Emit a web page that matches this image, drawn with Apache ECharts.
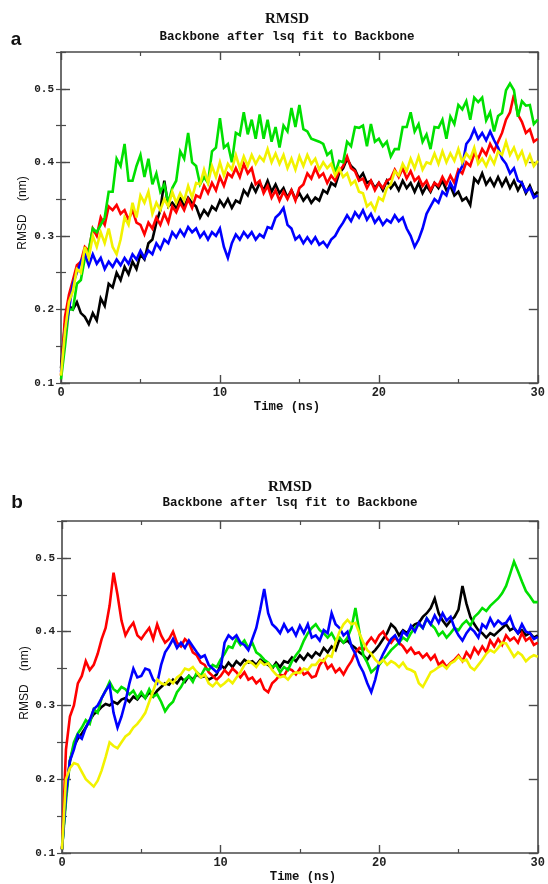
<!DOCTYPE html>
<html>
<head>
<meta charset="utf-8">
<script src="https://cdn.jsdelivr.net/npm/echarts@6/dist/echarts.min.js"></script>
<style>html,body{margin:0;padding:0;background:#fff}#c{width:548px;height:884px}</style>
</head>
<body>
<div id="c"></div>
<script>
// sample step in ns (one value every 0.25 ns, 0..30 ns)
const STEP = 0.25;
const xTicks = [0, 10, 20, 30];
const yTicks = [0.1, 0.2, 0.3, 0.4, 0.5];
const seriesColors = ['#000000', '#ff0000', '#00e000', '#0000ff', '#f2f200'];

// ---- panel a ----
const a_black = [0.12,0.18,0.205,0.2,0.21,0.195,0.19,0.18,0.195,0.185,
0.215,0.205,0.235,0.23,0.25,0.24,0.258,0.248,0.265,0.255,
0.275,0.268,0.29,0.295,0.318,0.335,0.375,0.34,0.345,0.338,
0.352,0.34,0.352,0.345,0.34,0.325,0.335,0.328,0.34,0.335,
0.348,0.34,0.35,0.338,0.348,0.345,0.362,0.355,0.37,0.36,
0.372,0.362,0.375,0.36,0.37,0.358,0.365,0.352,0.362,0.35,
0.358,0.348,0.355,0.345,0.352,0.348,0.362,0.358,0.372,0.368,
0.385,0.392,0.405,0.395,0.39,0.378,0.385,0.372,0.375,0.365,
0.372,0.362,0.375,0.365,0.372,0.362,0.375,0.365,0.372,0.36,
0.372,0.358,0.368,0.36,0.372,0.365,0.375,0.362,0.368,0.355,
0.36,0.348,0.352,0.342,0.378,0.372,0.385,0.37,0.378,0.368,
0.38,0.368,0.378,0.365,0.375,0.362,0.372,0.358,0.368,0.355,
0.36];
const a_red = [0.11,0.19,0.22,0.24,0.26,0.265,0.285,0.28,0.31,0.3,
0.325,0.315,0.34,0.335,0.342,0.33,0.335,0.322,0.335,0.318,
0.315,0.302,0.318,0.31,0.325,0.315,0.33,0.318,0.34,0.332,
0.345,0.335,0.35,0.338,0.355,0.352,0.368,0.358,0.372,0.362,
0.38,0.368,0.385,0.38,0.392,0.38,0.398,0.385,0.392,0.37,
0.375,0.358,0.368,0.352,0.362,0.348,0.36,0.35,0.362,0.348,
0.365,0.37,0.385,0.378,0.392,0.38,0.385,0.372,0.382,0.375,
0.388,0.395,0.408,0.392,0.388,0.375,0.378,0.365,0.375,0.362,
0.372,0.365,0.375,0.378,0.39,0.38,0.392,0.378,0.388,0.375,
0.38,0.368,0.375,0.362,0.372,0.368,0.38,0.37,0.382,0.372,
0.39,0.385,0.4,0.395,0.412,0.405,0.418,0.41,0.425,0.415,
0.428,0.44,0.458,0.468,0.492,0.465,0.455,0.44,0.445,0.428,
0.432];
const a_green = [0.105,0.15,0.2,0.2,0.235,0.24,0.27,0.28,0.31,0.305,
0.315,0.325,0.36,0.36,0.405,0.395,0.425,0.375,0.375,0.395,
0.41,0.38,0.405,0.37,0.385,0.36,0.37,0.345,0.365,0.375,
0.415,0.405,0.44,0.4,0.395,0.37,0.38,0.372,0.415,0.42,
0.46,0.42,0.425,0.4,0.44,0.437,0.468,0.438,0.458,0.432,
0.465,0.432,0.458,0.428,0.448,0.42,0.45,0.442,0.474,0.448,
0.478,0.445,0.442,0.432,0.43,0.428,0.425,0.41,0.415,0.385,
0.402,0.4,0.428,0.422,0.448,0.447,0.45,0.422,0.452,0.428,
0.432,0.422,0.428,0.408,0.418,0.418,0.448,0.448,0.468,0.442,
0.452,0.428,0.438,0.418,0.448,0.447,0.458,0.432,0.462,0.452,
0.478,0.472,0.483,0.458,0.488,0.482,0.488,0.457,0.468,0.442,
0.463,0.467,0.498,0.507,0.498,0.462,0.483,0.477,0.478,0.452,
0.458];
const a_blue = [0.115,0.17,0.2,0.235,0.25,0.265,0.275,0.26,0.275,0.262,
0.27,0.255,0.265,0.258,0.268,0.26,0.27,0.262,0.275,0.268,
0.28,0.27,0.28,0.275,0.29,0.282,0.295,0.29,0.305,0.298,
0.308,0.3,0.312,0.305,0.31,0.298,0.305,0.295,0.305,0.3,
0.31,0.285,0.27,0.29,0.302,0.295,0.305,0.298,0.305,0.295,
0.302,0.298,0.312,0.31,0.325,0.33,0.338,0.315,0.31,0.295,
0.3,0.29,0.298,0.29,0.298,0.288,0.292,0.285,0.295,0.3,
0.31,0.318,0.328,0.32,0.332,0.325,0.335,0.322,0.33,0.318,
0.325,0.315,0.322,0.318,0.328,0.32,0.325,0.31,0.3,0.285,
0.295,0.31,0.33,0.34,0.35,0.345,0.36,0.355,0.372,0.362,
0.385,0.395,0.425,0.432,0.445,0.432,0.44,0.43,0.442,0.43,
0.42,0.405,0.398,0.385,0.392,0.375,0.372,0.36,0.365,0.352,
0.355];
const a_yellow = [0.11,0.17,0.21,0.225,0.255,0.25,0.285,0.27,0.3,0.285,
0.305,0.29,0.31,0.285,0.275,0.295,0.325,0.315,0.345,0.325,
0.355,0.345,0.36,0.33,0.345,0.335,0.35,0.34,0.36,0.345,
0.358,0.348,0.368,0.352,0.372,0.37,0.39,0.372,0.395,0.38,
0.4,0.382,0.398,0.39,0.41,0.392,0.408,0.395,0.41,0.398,
0.408,0.402,0.418,0.4,0.412,0.398,0.41,0.392,0.405,0.39,
0.408,0.395,0.41,0.398,0.405,0.39,0.4,0.392,0.398,0.382,
0.392,0.38,0.385,0.37,0.375,0.36,0.358,0.34,0.345,0.335,
0.352,0.348,0.365,0.37,0.388,0.382,0.398,0.388,0.405,0.392,
0.408,0.39,0.4,0.398,0.412,0.398,0.415,0.4,0.412,0.402,
0.418,0.4,0.412,0.405,0.42,0.398,0.405,0.395,0.408,0.398,
0.415,0.41,0.428,0.41,0.42,0.405,0.415,0.398,0.41,0.395,
0.402];

// ---- panel b ----
const b_black = [0.105,0.18,0.225,0.245,0.255,0.262,0.27,0.28,0.288,0.292,
0.298,0.302,0.3,0.305,0.302,0.308,0.31,0.305,0.312,0.308,
0.315,0.31,0.318,0.312,0.32,0.325,0.33,0.328,0.335,0.33,
0.338,0.332,0.34,0.335,0.342,0.338,0.34,0.335,0.338,0.342,
0.355,0.35,0.358,0.352,0.36,0.355,0.362,0.358,0.36,0.355,
0.362,0.358,0.355,0.35,0.358,0.352,0.36,0.358,0.365,0.36,
0.368,0.362,0.37,0.365,0.372,0.368,0.378,0.372,0.38,0.375,
0.39,0.385,0.388,0.382,0.378,0.372,0.368,0.362,0.37,0.375,
0.382,0.39,0.398,0.41,0.405,0.395,0.402,0.398,0.405,0.41,
0.412,0.42,0.425,0.432,0.445,0.425,0.415,0.408,0.415,0.42,
0.43,0.462,0.438,0.42,0.41,0.402,0.398,0.392,0.398,0.395,
0.4,0.405,0.41,0.402,0.405,0.398,0.402,0.395,0.398,0.392,
0.395];
const b_red = [0.105,0.24,0.285,0.3,0.33,0.34,0.36,0.348,0.355,0.37,
0.39,0.405,0.435,0.48,0.45,0.415,0.395,0.405,0.412,0.395,
0.39,0.398,0.405,0.39,0.41,0.395,0.385,0.39,0.4,0.385,
0.38,0.39,0.385,0.372,0.368,0.358,0.355,0.345,0.34,0.335,
0.34,0.348,0.342,0.35,0.345,0.338,0.345,0.335,0.338,0.33,
0.335,0.322,0.318,0.33,0.335,0.342,0.34,0.35,0.348,0.342,
0.35,0.342,0.345,0.338,0.34,0.355,0.362,0.35,0.355,0.345,
0.35,0.342,0.352,0.36,0.372,0.378,0.375,0.385,0.392,0.385,
0.395,0.4,0.39,0.385,0.392,0.385,0.38,0.372,0.378,0.37,
0.372,0.365,0.37,0.362,0.368,0.355,0.36,0.352,0.358,0.362,
0.368,0.36,0.372,0.365,0.378,0.37,0.38,0.372,0.388,0.38,
0.39,0.382,0.395,0.388,0.392,0.385,0.398,0.388,0.392,0.382,
0.385];
const b_green = [0.105,0.17,0.225,0.25,0.262,0.27,0.28,0.275,0.295,0.29,
0.31,0.32,0.332,0.322,0.318,0.325,0.322,0.315,0.32,0.31,
0.318,0.31,0.322,0.312,0.315,0.305,0.292,0.3,0.305,0.318,
0.325,0.335,0.34,0.332,0.345,0.34,0.35,0.348,0.355,0.352,
0.362,0.37,0.38,0.378,0.39,0.382,0.388,0.378,0.385,0.372,
0.368,0.362,0.358,0.352,0.355,0.345,0.352,0.348,0.36,0.368,
0.375,0.388,0.398,0.405,0.41,0.402,0.398,0.392,0.398,0.388,
0.392,0.385,0.392,0.405,0.432,0.4,0.368,0.358,0.345,0.35,
0.355,0.362,0.368,0.375,0.38,0.385,0.392,0.388,0.398,0.405,
0.41,0.405,0.418,0.41,0.405,0.395,0.4,0.392,0.398,0.405,
0.402,0.41,0.415,0.408,0.42,0.425,0.432,0.428,0.435,0.44,
0.445,0.452,0.462,0.478,0.495,0.482,0.468,0.455,0.448,0.44,
0.44];
const b_blue = [0.105,0.18,0.225,0.24,0.26,0.255,0.27,0.28,0.295,0.3,
0.31,0.32,0.328,0.29,0.27,0.285,0.305,0.33,0.35,0.338,
0.34,0.35,0.348,0.335,0.33,0.355,0.372,0.38,0.39,0.378,
0.385,0.378,0.388,0.38,0.372,0.365,0.368,0.355,0.35,0.345,
0.35,0.385,0.395,0.39,0.395,0.385,0.382,0.375,0.39,0.405,
0.43,0.458,0.425,0.41,0.405,0.398,0.41,0.4,0.405,0.395,
0.408,0.398,0.41,0.392,0.395,0.388,0.402,0.398,0.425,0.41,
0.405,0.395,0.4,0.38,0.37,0.355,0.345,0.33,0.318,0.335,
0.358,0.37,0.38,0.39,0.395,0.385,0.4,0.395,0.408,0.4,
0.412,0.405,0.418,0.41,0.422,0.412,0.425,0.415,0.42,0.405,
0.395,0.388,0.398,0.405,0.4,0.392,0.41,0.405,0.418,0.408,
0.415,0.41,0.412,0.42,0.405,0.398,0.41,0.4,0.398,0.39,
0.393];
const b_yellow = [0.105,0.2,0.215,0.222,0.22,0.21,0.2,0.195,0.19,0.198,
0.212,0.23,0.25,0.245,0.242,0.25,0.258,0.262,0.27,0.275,
0.282,0.29,0.305,0.32,0.335,0.33,0.328,0.335,0.33,0.338,
0.342,0.35,0.348,0.352,0.345,0.338,0.342,0.33,0.326,0.332,
0.326,0.33,0.335,0.33,0.338,0.345,0.355,0.36,0.357,0.352,
0.36,0.355,0.357,0.348,0.342,0.338,0.34,0.335,0.342,0.345,
0.344,0.35,0.348,0.355,0.355,0.362,0.36,0.368,0.366,0.385,
0.4,0.41,0.416,0.41,0.412,0.398,0.385,0.375,0.37,0.362,
0.357,0.362,0.355,0.36,0.357,0.352,0.358,0.35,0.348,0.345,
0.33,0.325,0.335,0.345,0.348,0.352,0.355,0.35,0.357,0.36,
0.366,0.36,0.362,0.352,0.348,0.355,0.362,0.37,0.375,0.372,
0.378,0.385,0.384,0.375,0.366,0.372,0.368,0.36,0.365,0.368,
0.366];

const panels = [
  {grid:{left:61, top:52, width:477, height:331}, series:[a_black,a_red,a_green,a_blue,a_yellow]},
  {grid:{left:62, top:521, width:481, height:332}, series:[b_black,b_red,b_green,b_blue,b_yellow]}
];

const MONO = '"Liberation Mono", "DejaVu Sans Mono", monospace';
const axisColor = '#4a4a4a';
const lineStyle = {color: axisColor, width: 1.6};

const grids = [], xAxes = [], yAxes = [], series = [];
panels.forEach((p, gi) => {
  grids.push(Object.assign({containLabel:false}, p.grid));
  const xBase = {
    type:'value', gridIndex:gi, min:xTicks[0], max:xTicks[xTicks.length-1], interval:10,
    axisLine:{show:true, onZero:false, lineStyle},
    axisTick:{show:true, inside:true, length:8, lineStyle:{color:axisColor, width:1.4}},
    minorTick:{show:true, splitNumber:2, length:4, lineStyle:{color:axisColor, width:1.2}},
    splitLine:{show:false}, minorSplitLine:{show:false}
  };
  xAxes.push(Object.assign({}, xBase, {position:'bottom',
    axisLabel:{show:true, margin:4, color:'#222', fontFamily:MONO, fontSize:12, fontWeight:'bold'}}));
  xAxes.push(Object.assign({}, xBase, {position:'top', axisLabel:{show:false}}));
  const yBase = {
    type:'value', gridIndex:gi, min:yTicks[0], max:0.55,
    axisLine:{show:true, onZero:false, lineStyle},
    splitLine:{show:false}
  };
  yAxes.push(Object.assign({}, yBase, {position:'left', interval:0.1,
    axisTick:{show:true, inside:true, length:9, lineStyle:{color:axisColor, width:1.4}},
    axisLabel:{show:true, margin:7, color:'#222', fontFamily:MONO, fontSize:11, fontWeight:'bold',
      showMaxLabel:false, formatter:v => yTicks.some(t => Math.abs(t - v) < 1e-6) ? v.toFixed(1) : ''}}));
  yAxes.push(Object.assign({}, yBase, {position:'left', interval:0.05,
    axisLine:{show:false}, axisTick:{show:true, inside:true, length:5, lineStyle:{color:axisColor, width:1.2}},
    axisLabel:{show:false}}));
  yAxes.push(Object.assign({}, yBase, {position:'right', interval:0.1,
    axisTick:{show:true, inside:true, length:9, lineStyle:{color:axisColor, width:1.4}},
    axisLabel:{show:false}}));
  yAxes.push(Object.assign({}, yBase, {position:'right', interval:0.05,
    axisLine:{show:false}, axisTick:{show:true, inside:true, length:5, lineStyle:{color:axisColor, width:1.2}},
    axisLabel:{show:false}}));
  p.series.forEach((vals, si) => {
    series.push({
      type:'line', xAxisIndex:gi*2, yAxisIndex:gi*4, showSymbol:false, symbol:'none',
      data: vals.map((v, i) => [i * STEP, v]),
      lineStyle:{color:seriesColors[si], width:2.6, join:'miter', miterLimit:4},
      itemStyle:{color:seriesColors[si]},
      z: 2 + si, animation:false, silent:true
    });
  });
});

function txt(text, x, y, font, rot) {
  return {type:'text', x:x, y:y, rotation:rot || 0, silent:true,
    style:{text:text, fill:'#111', font:font, textAlign:'center', textVerticalAlign:'middle',
      align:'center', verticalAlign:'middle'}};
}
const titleFont = 'bold 15px "Liberation Serif", serif';
const subFont = 'bold 12.5px ' + MONO;
const nameFont = 'bold 12.3px ' + MONO;
const yNameFont = '12px "Liberation Sans", Arial, sans-serif';
const panelFont = 'bold 19px "Liberation Sans", Arial, sans-serif';

const graphics = [
  txt('a', 16, 40, panelFont),
  txt('RMSD', 287, 19, titleFont),
  txt('Backbone after lsq fit to Backbone', 287, 37, subFont),
  txt('Time (ns)', 287, 407, nameFont),
  txt('RMSD    (nm)', 23, 213, yNameFont, Math.PI/2),
  txt('b', 17, 503, panelFont),
  txt('RMSD', 290, 487, titleFont),
  txt('Backbone after lsq fit to Backbone', 290, 503, subFont),
  txt('Time (ns)', 303, 877, nameFont),
  txt('RMSD    (nm)', 25, 683, yNameFont, Math.PI/2)
];

const chart = echarts.init(document.getElementById('c'), null, {renderer:'canvas'});
chart.setOption({
  animation:false,
  backgroundColor:'#ffffff',
  grid:grids, xAxis:xAxes, yAxis:yAxes, series:series,
  graphic:graphics
});
</script>
</body>
</html>
